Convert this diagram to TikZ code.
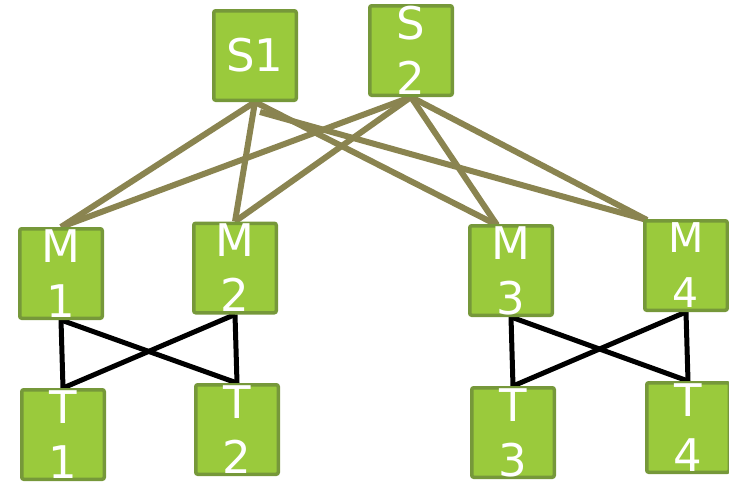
\documentclass[tikz,border=0pt]{standalone}
\usepackage{fontspec}
\setmainfont{DejaVu Sans}
\usetikzlibrary{calc,backgrounds}
\definecolor{boxfill}{HTML}{9ACA3C}
\definecolor{boxline}{HTML}{76983A}
\definecolor{olive}{HTML}{8A8450}
\tikzset{
  box/.style={rectangle, rounded corners=2pt, draw=boxline, fill=boxfill,
    line width=3.5pt, minimum width=82.5pt, minimum height=89.5pt, inner sep=0pt,
    text=white, align=center, font=\fontsize{45}{55}\selectfont},
  upper/.style={draw=olive, line width=6pt},
  lower/.style={draw=black, line width=5pt},
}
\begin{document}
\begin{tikzpicture}[x=1pt,y=-1pt]
\useasboundingbox (0,0) rectangle (729,483);
\node[box] (S1) at (255,55.5) {\raisebox{-5pt}{S1}};
\node[box] (S2) at (411,50.5) {S\\2};
\node[box] (M1) at (61,273.5) {M\\1};
\node[box] (M2) at (235,268) {M\\2};
\node[box] (M3) at (511,270.5) {M\\3};
\node[box, font=\fontsize{41}{55}\selectfont] (M4) at (686,265.5) {M\\4};
\node[box] (T1) at (63,434.5) {\raisebox{-4pt}{T}\\\raisebox{-4pt}{1}};
\node[box] (T2) at (237,429.5) {\raisebox{-4pt}{T}\\\raisebox{-4pt}{2}};
\node[box] (T3) at (513,432.5) {\raisebox{-4pt}{T}\\\raisebox{-4pt}{3}};
\node[box] (T4) at (688,427.5) {\raisebox{-4pt}{T}\\\raisebox{-4pt}{4}};
\coordinate (s1a) at ($(S1.south)+(5,10)$);
\coordinate (m3t) at ($(M3.north)+(-14,1)$);
\coordinate (m4t) at ($(M4.north)+(-39,1)$);
\begin{pgfonlayer}{background}
\draw[upper] (S1.south) -- (M1.north);
\draw[upper] (S1.south) -- (M2.north);
\draw[upper] (S1.south) -- (m3t);
\draw[upper] (s1a) -- (m4t);
\draw[upper] (S2.south) -- (M1.north);
\draw[upper] (S2.south) -- (M2.north);
\draw[upper] (S2.south) -- (m3t);
\draw[upper] (S2.south) -- (m4t);
\draw[lower] (M1.south) -- (T1.north);
\draw[lower] (M1.south) -- (T2.north);
\draw[lower] (M2.south) -- (T1.north);
\draw[lower] (M2.south) -- (T2.north);
\draw[lower] (M3.south) -- (T3.north);
\draw[lower] (M3.south) -- (T4.north);
\draw[lower] (M4.south) -- (T3.north);
\draw[lower] (M4.south) -- (T4.north);
\end{pgfonlayer}
\end{tikzpicture}
\end{document}
